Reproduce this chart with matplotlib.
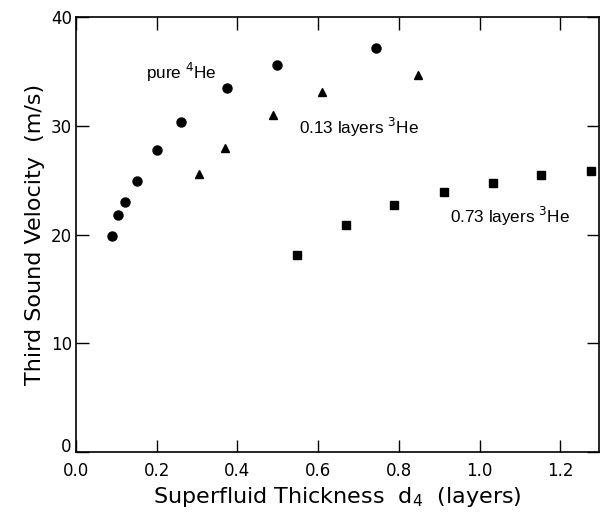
import matplotlib
matplotlib.use('Agg')
import matplotlib.pyplot as plt
import matplotlib.transforms as mtransforms

# pure 4He
pure_x = [0.088, 0.105, 0.122, 0.150, 0.200, 0.260, 0.375, 0.497, 0.743]
pure_v = [19.85, 21.8, 23.0, 24.95, 27.75, 30.3, 33.5, 35.55, 37.15]

# 0.13 layers 3He
he13_x = [0.304, 0.368, 0.488, 0.609, 0.848]
he13_v = [25.6, 27.95, 31.0, 33.1, 34.65]

# 0.73 layers 3He
he73_x = [0.548, 0.670, 0.789, 0.911, 1.034, 1.152, 1.276]
he73_v = [18.15, 20.85, 22.75, 23.9, 24.7, 25.5, 25.85]

plt.rcParams['font.family'] = ['DejaVu Sans']
narrow = ['Liberation Sans Narrow', 'Liberation Sans', 'DejaVu Sans']

fig = plt.figure(figsize=(6.06, 5.15), dpi=100)
ax = fig.add_axes([0.1254, 0.1223, 0.8626, 0.8447])

ax.plot(pure_x, pure_v, 'o', color='black', markersize=6.5)
ax.plot(he13_x, he13_v, '^', color='black', markersize=6)
ax.plot(he73_x, he73_v, 's', color='black', markersize=6)

ax.text(0.174, 34.9, 'pure $^{4}$He', fontsize=12.3, va='center', family=narrow)
ax.text(0.553, 29.8, '0.13 layers $^{3}$He', fontsize=12.3, va='center', family=narrow)
ax.text(0.926, 21.7, '0.73 layers $^{3}$He', fontsize=12.3, va='center', family=narrow)

ax.set_xlim(0, 1.295)
ax.set_ylim(0, 40)
ax.set_xticks([0.0, 0.2, 0.4, 0.6, 0.8, 1.0, 1.2])
ax.set_yticks([0, 10, 20, 30, 40])
ax.set_xticklabels(['0.0', '0.2', '0.4', '0.6', '0.8', '1.0', '1.2'])
ax.tick_params(direction='in', top=True, right=True, length=9, width=1,
               labelsize=12)
ax.tick_params(axis='x', pad=7)
ax.tick_params(axis='y', pad=3)
for s in ax.spines.values():
    s.set_linewidth(1.2)

# nudge the "0" on the y axis up, as in the original
zero_lab = ax.get_yticklabels()[0]
zero_lab.set_transform(zero_lab.get_transform() +
                       mtransforms.ScaledTranslation(0, 5 / 72, fig.dpi_scale_trans))

ax.set_xlabel('Superfluid Thickness  d$_4$  (layers)', fontsize=16, labelpad=4)
ax.set_ylabel('Third Sound Velocity  (m/s)', fontsize=16)

plt.savefig('out.png', dpi=100)
